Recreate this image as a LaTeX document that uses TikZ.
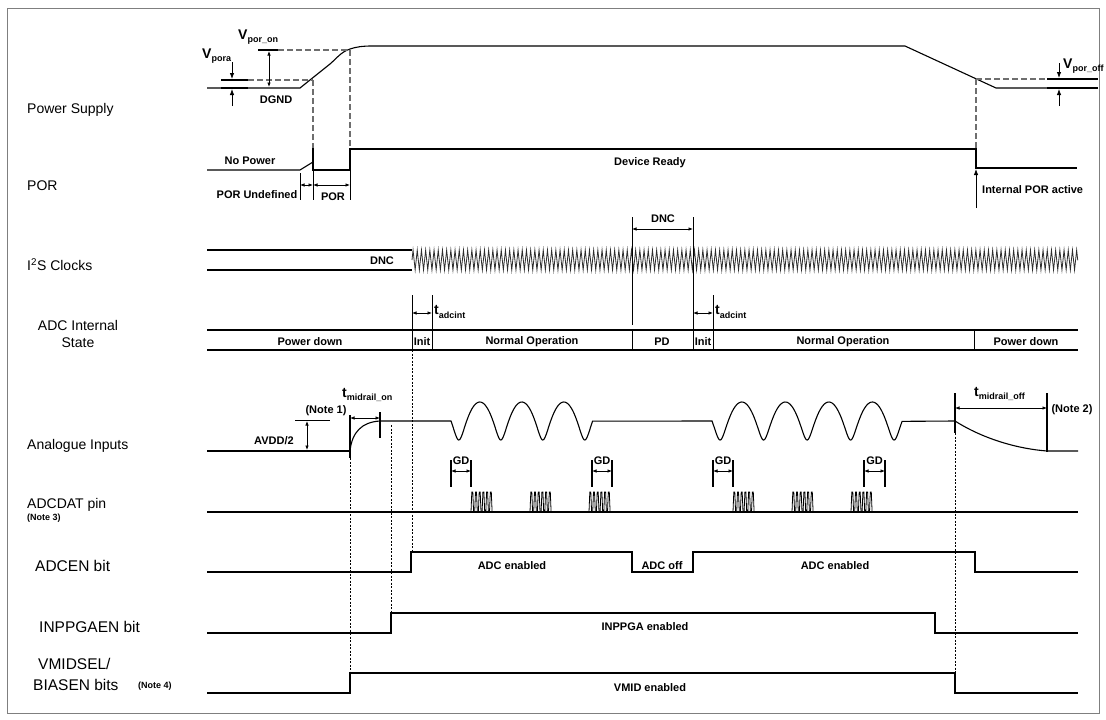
\documentclass[tikz,border=0pt]{standalone}
\usepackage{fontspec}
\setmainfont{Liberation Sans}
\usepackage{tikz}
\usetikzlibrary{decorations.pathmorphing}
\usetikzlibrary{arrows.meta}
\definecolor{frameColor}{HTML}{7F7F7F}
\definecolor{dashColor}{HTML}{6E6E6E}
\definecolor{clockColor}{HTML}{2E2E2E}

\newcommand{\symsub}[2]{{\fontsize{14}{14}\selectfont\bfseries #1}\raisebox{-3.5pt}{\fontsize{9}{9}\selectfont\bfseries #2}}

\tikzset{
  lbl/.style={font=\fontsize{14}{17}\selectfont, anchor=west, inner sep=0pt},
  lblbig/.style={font=\fontsize{15.5}{19}\selectfont, anchor=west, inner sep=0pt},
  tag/.style={font=\fontsize{11}{12}\selectfont\bfseries, inner sep=0pt},
  note/.style={font=\fontsize{9}{10}\selectfont\bfseries, anchor=west, inner sep=0pt},
  sig/.style={line width=1.1pt},
  thinline/.style={line width=0.9pt},
  bigdash/.style={dashColor, line width=1.2pt, dash pattern=on 6pt off 3pt},
  smalldash/.style={black, line width=0.6pt, dash pattern=on 2pt off 1.5pt},
  bar/.style={line width=2.4pt},
  dim/.style={{Latex[length=4.5pt,width=3.5pt]}-{Latex[length=4.5pt,width=3.5pt]}, line width=0.7pt},
  tip/.style={-{Latex[length=6pt,width=4.5pt]}, line width=0.8pt},
}

\begin{document}
\begin{tikzpicture}[x=1pt,y=-1pt]
\useasboundingbox (0,0) rectangle (1106,720);
\draw[frameColor, line width=1pt] (7,8) rectangle (1099,713);

% row names
\node[lbl] (psu) at (27,110) {Power Supply};
\node[lbl] (por) at (27,186) {POR};
\node[lbl] (i2s) at (27,265) {I\textsuperscript{2}S Clocks};
\node[lbl, anchor=center, align=center] (adcst) at (78,334) {ADC Internal\\State};
\node[lbl] (ain) at (27,446) {Analogue Inputs};
\node[lbl] (adcdat) at (27,505) {ADCDAT pin};
\node[note] (note3) at (27,518) {(Note 3)};
\node[lblbig] (adcen) at (35,566) {ADCEN bit};
\node[lblbig] (inppga) at (39,627) {INPPGAEN bit};
\node[lblbig] (vmidsel) at (38,664) {VMIDSEL/};
\node[lblbig] (biasen) at (33,685) {BIASEN bits};
\node[note] (note4) at (138,686) {(Note 4)};

% power supply
\draw[sig] (207,88) -- (300,88) -- (330,64) .. controls (337,58) and (341,52) .. (350,49) .. controls (356,47) and (362,46) .. (372,46) -- (905,46) -- (996,88) -- (1047,88);
\draw[bar] (221,80) -- (248,80);
\draw[bar] (221,88) -- (248,88);
\draw[bar] (258,50) -- (278,50);
\draw[bar] (1047,79) -- (1098,79);
\draw[bar] (1047,88) -- (1098,88);
\draw[bigdash] (248,80) -- (313,80);
\draw[bigdash] (278,50) -- (350,50);
\draw[bigdash] (976,79) -- (1047,79);
\draw[tip] (232,62) -- (232,79);
\draw[tip] (232,106) -- (232,89);
\draw[dim] (269,51) -- (269,87);
\draw[tip] (1059,63) -- (1059,78);
\draw[tip] (1059,106) -- (1059,89);
\node[anchor=west, inner sep=0pt] (vpora) at (202,56) {\symsub{V}{pora}};
\node[anchor=west, inner sep=0pt] (vporon) at (238,37) {\symsub{V}{por\_on}};
\node[anchor=west, inner sep=0pt] (vporoff) at (1063,66) {\symsub{V}{por\_off}};
\node[tag] (dgnd) at (276,100) {DGND};
\draw[bigdash] (313,80) -- (313,148);
\draw[bigdash] (350,50) -- (350,149);
\draw[bigdash] (976,79) -- (976,149);

% POR
\draw[sig] (207,170) -- (300,170) -- (313,162);
\draw[sig] (313,148) -- (313,170) -- (350,170) -- (350,149) -- (976,149) -- (976,168) -- (1077,168);
\draw[thinline] (300,173) -- (300,200);
\draw[thinline] (313,170) -- (313,200);
\draw[thinline] (350,170) -- (350,200);
\draw[dim] (300,185) -- (313,185);
\draw[dim] (313,185) -- (350,185);
\draw[tip] (976,208) -- (976,169);
\node[tag] (nopower) at (250,161) {No Power};
\node[tag] (ready) at (650,163) {Device Ready};
\node[tag] (undef) at (257,195) {POR Undefined};
\node[tag] (porwin) at (333,197) {POR};
\node[tag, anchor=west] (intpor) at (982,190) {Internal POR active};

% I2S clocks
\draw[sig] (207,250) -- (412,250);
\draw[sig] (207,270) -- (412,270);
\draw[clockColor, line width=0.8pt, decorate, decoration={zigzag, segment length=4.2pt, amplitude=10pt}] (412,260) -- (1078,260);
\node[tag] (dncclk) at (382,261) {DNC};
\draw[thinline] (632,217) -- (632,325);
\draw[thinline] (693,217) -- (693,350);
\draw[dim] (632,229) -- (693,229);
\node[tag] (dncgap) at (663,219) {DNC};

% ADC internal state
\draw[sig] (207,330) -- (1078,330);
\draw[sig] (207,350) -- (1078,350);
\foreach \sx in {412,432,632,693,713,974}
  \draw[thinline] (\sx,330) -- (\sx,350);
\draw[thinline] (412,295) -- (412,330);
\draw[thinline] (432,295) -- (432,330);
\draw[thinline] (713,295) -- (713,330);
\draw[dim] (412,313) -- (432,313);
\draw[dim] (693,313) -- (713,313);
\node[anchor=west, inner sep=0pt] (tint1) at (434,312) {\symsub{t}{adcint}};
\node[anchor=west, inner sep=0pt] (tint2) at (715,312) {\symsub{t}{adcint}};
\node[tag] (pd1) at (310,342) {Power down};
\node[tag] (init1) at (422,342) {Init};
\node[tag] (norm1) at (532,342) {Normal Operation};
\node[tag] (pd) at (662,342) {PD};
\node[tag] (init2) at (703,342) {Init};
\node[tag] (norm2) at (843,342) {Normal Operation};
\node[tag] (pd2) at (1026,342) {Power down};

% analogue inputs
\draw[sig] (207,451) -- (350,451);
\draw[sig] (350,451) .. controls (352,432) and (362,422) .. (380,421) -- (451,421)
  -- plot[domain=0:3.5, samples=160] ({451+42*(\x+0.4*(cos(360*\x)-1)/6.283)},{421+19*sin(360*\x)})
  -- (712,421)
  -- plot[domain=0:4.5, samples=200] ({712+43.5*(\x+0.4*(cos(360*\x)-1)/6.283)},{421+19*sin(360*\x)})
  -- (955,421) .. controls (985,440) and (1020,449) .. (1047,451) -- (1078,451);
\draw[sig] (350,415) -- (350,458);
\draw[sig] (380,412) -- (380,438);
\draw[dim] (350,418) -- (380,418);
\draw[thinline] (295,420) -- (330,420);
\draw[dim] (307,421) -- (307,450);
\draw[sig] (955,393) -- (955,433);
\draw[sig] (1047,393) -- (1047,452);
\draw[dim] (955,408) -- (1047,408);
\node[anchor=west, inner sep=0pt] (tmon) at (342,395) {\symsub{t}{midrail\_on}};
\node[anchor=west, inner sep=0pt] (tmoff) at (974,394) {\symsub{t}{midrail\_off}};
\node[tag] (note1) at (326,411) {(Note 1)};
\node[tag] (note2) at (1072,410) {(Note 2)};
\node[tag] (avdd) at (274,441) {AVDD/2};

% ADCDAT pin
\draw[sig] (207,512) -- (1078,512);
\foreach \b in {471,530,589,733,792,851}
  \draw[line width=0.8pt] (\b,512) \foreach \k in {1,...,6} { -- ++(0.8,-20) -- ++(1,0) -- ++(0.8,20) -- ++(1.1,0) };
\foreach \ga/\gb in {451/471,592/612,713/733,864/885} {
  \draw[sig] (\ga,460) -- (\ga,487);
  \draw[sig] (\gb,460) -- (\gb,487);
  \draw[dim] (\ga,471) -- (\gb,471);
  \node[tag] (gd\ga) at ({(\ga+\gb)/2},461) {GD};
}

% control bits
\draw[sig] (207,572) -- (411,572) -- (411,552) -- (632,552) -- (632,572) -- (693,572) -- (693,552) -- (975,552) -- (975,572) -- (1078,572);
\draw[sig] (207,633) -- (391,633) -- (391,613) -- (935,613) -- (935,633) -- (1078,633);
\draw[sig] (207,693) -- (350,693) -- (350,673) -- (955,673) -- (955,693) -- (1078,693);
\node[tag] (adcon1) at (512,566) {ADC enabled};
\node[tag] (adcoff) at (662,566) {ADC off};
\node[tag] (adcon2) at (835,566) {ADC enabled};
\node[tag] (pgaon) at (645,627) {INPPGA enabled};
\node[tag] (vmidon) at (650,688) {VMID enabled};

% timing guides
\draw[smalldash] (350,458) -- (350,673);
\draw[smalldash] (391,425) -- (391,613);
\draw[smalldash] (412,350) -- (412,552);
\draw[smalldash] (955,433) -- (955,673);
\end{tikzpicture}
\end{document}
